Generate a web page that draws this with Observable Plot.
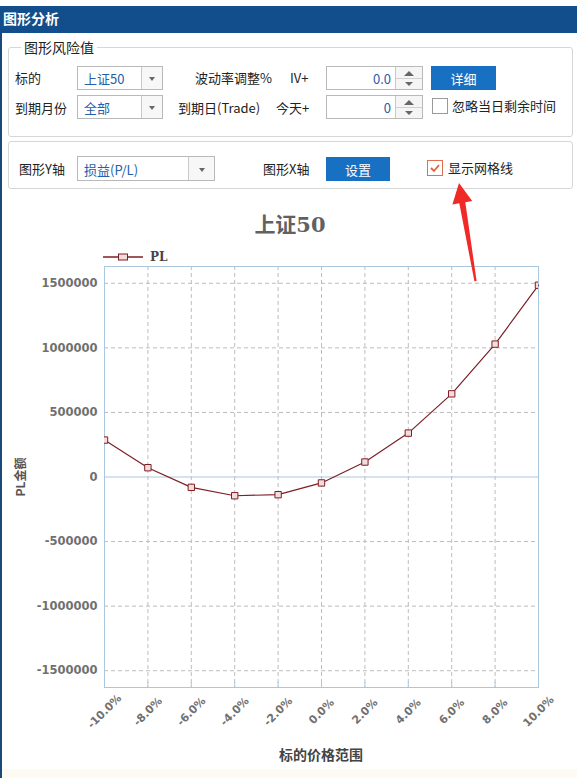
<!DOCTYPE html>
<html>
<head>
<meta charset="utf-8">
<script src="https://cdn.jsdelivr.net/npm/d3@7"></script>
<script src="https://cdn.jsdelivr.net/npm/@observablehq/plot@0.6"></script>
<style>
  html, body { margin:0; padding:0; background:#fff; }
  body { width:577px; height:778px; position:relative; overflow:hidden;
         font-family:"Noto Sans CJK SC","Noto Sans",sans-serif; font-size:13px; color:#222; }
  .abs { position:absolute; }
  .lbl { position:absolute; line-height:1; white-space:nowrap; }
  .hdr { left:0; top:6px; width:577px; height:27px; background:#134e8c; }
  .hdr span { position:absolute; left:3px; top:5px; color:#fff; font-weight:bold; font-size:14px; line-height:1; }
  .lborder { left:0; top:33px; width:2px; height:745px; background:#1b4a7a; }
  .group { position:absolute; border:1px solid #d6d6d6; border-radius:3px; box-sizing:border-box; }
  .legend { position:absolute; background:#fff; padding:0 3px; font-size:14px; line-height:1; }
  .combo { position:absolute; border:1px solid #b9b9b9; box-sizing:border-box; background:#fff; }
  .combo .t { position:absolute; left:6px; top:50%; transform:translateY(-50%); color:#2560a8; line-height:1; white-space:nowrap; }
  .combo .a { position:absolute; right:0; top:0; bottom:0; border-left:1px solid #c9c9c9; background:#f7f7f7; }
  .combo .a::after { content:""; position:absolute; left:50%; top:50%; margin-left:-3px; margin-top:-1px;
         border-left:3px solid transparent; border-right:3px solid transparent; border-top:4px solid #666; }
  .spin { position:absolute; border:1px solid #b9b9b9; box-sizing:border-box; background:#fff; width:97px; height:24px; }
  .spin .t { position:absolute; right:31px; top:50%; transform:translateY(-50%); color:#2560a8; line-height:1; }
  .spin .s { position:absolute; right:0; top:0; bottom:0; width:26px; border-left:1px solid #c9c9c9; background:#f5f5f5; }
  .spin .s .mid { position:absolute; left:0; right:0; top:11px; height:1px; background:#d0d0d0; }
  .spin .s .up { position:absolute; left:8px; top:4px; border-left:5px solid transparent; border-right:5px solid transparent; border-bottom:5px solid #666; }
  .spin .s .dn { position:absolute; left:9px; top:15px; border-left:4px solid transparent; border-right:4px solid transparent; border-top:4px solid #666; }
  .btn { position:absolute; background:#1870c2; color:#fff; text-align:center; box-sizing:border-box; }
  .btn span { position:absolute; left:0; right:0; top:50%; transform:translateY(-50%); line-height:1; }
  .cb { position:absolute; width:16px; height:16px; box-sizing:border-box; border:1px solid #9a9a9a; background:#fff; }
</style>
</head>
<body>
<div class="abs hdr"><span>图形分析</span></div>
<div class="abs lborder"></div>

<!-- group 1 -->
<div class="group" style="left:8px;top:47px;width:565px;height:90px;"></div>
<div class="legend" style="left:21px;top:40px;">图形风险值</div>

<div class="lbl" style="left:15px;top:71px;">标的</div>
<div class="combo" style="left:77px;top:66px;width:86px;height:24px;"><span class="t">上证50</span><span class="a" style="width:20px;"></span></div>
<div class="lbl" style="left:195px;top:71px;">波动率调整%</div>
<div class="lbl" style="left:290px;top:71px;">IV+</div>
<div class="spin" style="left:326px;top:66px;"><span class="t">0.0</span><span class="s"><span class="up"></span><span class="mid"></span><span class="dn"></span></span></div>
<div class="btn" style="left:431px;top:66px;width:65px;height:24px;"><span>详细</span></div>

<div class="lbl" style="left:15px;top:101px;">到期月份</div>
<div class="combo" style="left:77px;top:95px;width:86px;height:24px;"><span class="t">全部</span><span class="a" style="width:20px;"></span></div>
<div class="lbl" style="left:178px;top:101px;">到期日(Trade)</div>
<div class="lbl" style="left:276px;top:101px;">今天+</div>
<div class="spin" style="left:326px;top:95px;"><span class="t">0</span><span class="s"><span class="up"></span><span class="mid"></span><span class="dn"></span></span></div>
<div class="cb" style="left:432px;top:98px;"></div>
<div class="lbl" style="left:452px;top:99px;">忽略当日剩余时间</div>

<!-- group 2 -->
<div class="group" style="left:8px;top:141px;width:565px;height:48px;"></div>
<div class="lbl" style="left:19px;top:162px;">图形Y轴</div>
<div class="combo" style="left:77px;top:156px;width:138px;height:25px;"><span class="t">损益(P/L)</span><span class="a" style="width:25px;"></span></div>
<div class="lbl" style="left:263px;top:162px;">图形X轴</div>
<div class="btn" style="left:326px;top:157px;width:64px;height:24px;"><span>设置</span></div>
<div class="cb" style="left:427px;top:160px;border-color:#e0704f;">
  <svg width="14" height="14" style="position:absolute;left:0;top:0;"><path d="M3 7 L6 10 L11 4" fill="none" stroke="#e0603c" stroke-width="1.8"/></svg>
</div>
<div class="lbl" style="left:448px;top:161px;">显示网格线</div>

<!-- chart title & legend -->
<div class="lbl" style="left:0;width:580px;text-align:center;top:214px;font-size:21px;font-weight:bold;color:#616161;font-family:'DejaVu Serif','Noto Sans CJK SC',serif;">上证50</div>
<svg class="abs" style="left:100px;top:249px;" width="80" height="16">
  <line x1="3" y1="8" x2="43" y2="8" stroke="#7d1f25" stroke-width="1.3"/>
  <rect x="18.5" y="5" width="9" height="6" fill="#f3dcdc" stroke="#7d1f25" stroke-width="1"/>
</svg>
<div class="lbl" style="left:150px;top:251px;font-size:12px;font-weight:bold;color:#444;font-family:'DejaVu Serif',serif;">PL</div>

<div id="chart" class="abs" style="left:0;top:240px;"></div>

<div class="lbl" style="left:20px;top:477px;transform:translate(-50%,-50%) rotate(-90deg);font-size:12px;font-weight:bold;color:#555;">PL金额</div>
<div class="lbl" style="left:0;width:642px;text-align:center;top:747px;font-size:14px;font-weight:bold;color:#444;">标的价格范围</div>
<div class="abs" style="left:2px;top:769px;width:575px;height:9px;background:#fdfaf1;"></div>

<!-- annotation arrow -->
<svg class="abs" style="left:0;top:0;pointer-events:none;" width="577" height="778">
  <polygon points="459,183 472.2,201 465.3,202.2 476.6,281 474.4,281.2 459.3,203.2 452.4,204.4" fill="#f02a26"/>
</svg>

<script>
const xValues = [-10, -8, -6, -4, -2, 0, 2, 4, 6, 8, 10];
const plValues = [286000, 72000, -80000, -145000, -137000, -46000, 116000, 340000, 644000, 1029000, 1485000];
const yTicks = [-1500000, -1000000, -500000, 0, 500000, 1000000, 1500000];
const xTickLabels = ["-10.0%", "-8.0%", "-6.0%", "-4.0%", "-2.0%", "0.0%", "2.0%", "4.0%", "6.0%", "8.0%", "10.0%"];

const data = xValues.map((x, i) => ({x, pl: plValues[i]}));
const frameBlue = "#a9c8e0";
const gridGray = "#bdbdbd";

const chart = Plot.plot({
  width: 577,
  height: 538,
  marginLeft: 104,
  marginRight: 39,
  marginTop: 26,
  marginBottom: 91,
  style: {fontFamily: "'DejaVu Sans', sans-serif", background: "transparent", overflow: "visible"},
  x: {domain: [-10, 10]},
  y: {domain: [-1630000, 1630000]},
  marks: [
    Plot.gridX(xValues.slice(1, -1), {stroke: gridGray, strokeOpacity: 1, strokeDasharray: "4,3"}),
    Plot.gridY(yTicks.filter(d => d !== 0), {stroke: gridGray, strokeOpacity: 1, strokeDasharray: "4,3"}),
    Plot.ruleY([0], {stroke: frameBlue, strokeWidth: 1.2}),
    Plot.frame({stroke: frameBlue}),
    Plot.tickX(xValues, {x: d => d, stroke: frameBlue, insetTop: 416}),
    Plot.axisY(yTicks, {
      tickSize: 0, tickPadding: 7, label: null,
      tickFormat: d => String(d),
      fontWeight: "bold", fontSize: 11.5, fill: "#707070"
    }),
    Plot.axisX(xValues, {
      tickSize: 0, tickPadding: 0, label: null,
      tickRotate: -45, textAnchor: "middle", lineAnchor: "middle", dy: 24,
      tickFormat: d => xTickLabels[xValues.indexOf(d)],
      fontWeight: "bold", fontSize: 11, fill: "#707070"
    }),
    Plot.line(data, {x: "x", y: "pl", stroke: "#7d1f25", strokeWidth: 1.2}),
    Plot.dot(data, {x: "x", y: "pl", symbol: "square", r: 3.6, stroke: "#7d1f25", fill: "#f3dcdc", strokeWidth: 1, clip: "frame"})
  ]
});
document.getElementById("chart").appendChild(chart);
</script>
</body>
</html>
